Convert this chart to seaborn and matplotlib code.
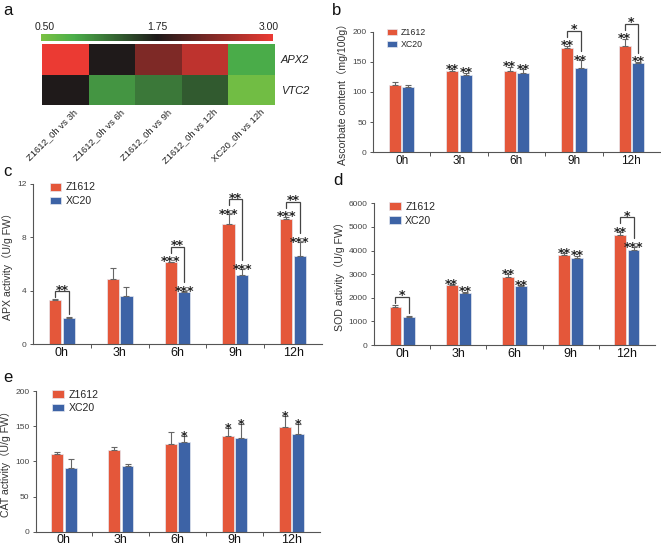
import numpy as np
import pandas as pd
import matplotlib
matplotlib.use("Agg")
import matplotlib.pyplot as plt
import seaborn as sns
from matplotlib.colors import LinearSegmentedColormap
from matplotlib.transforms import ScaledTranslation

# ---------------- data ----------------
times = ["0h", "3h", "6h", "9h", "12h"]
cultivars = ["Z1612", "XC20"]

heat_rows = ["APX2", "VTC2"]
heat_cols = ["Z1612_0h vs 3h", "Z1612_0h vs 6h", "Z1612_0h vs 9h",
             "Z1612_0h vs 12h", "XC20_0h vs 12h"]
apx2_fc = [3.00, 1.75, 2.33, 2.72, 0.87]
vtc2_fc = [1.75, 1.00, 1.18, 1.36, 0.57]
heat_ticks = [0.50, 1.75, 3.00]

# b: ascorbate content
asa_z = [111.5, 134, 135, 173.5, 176.5]
asa_z_err = [5, 3.5, 7, 3.5, 12]
asa_x = [108.5, 127.5, 131.5, 139.5, 147.5]
asa_x_err = [3, 4.5, 6, 13, 2.5]
asa_sig_z = ["", "**", "**", "**", "**"]
asa_sig_x = ["", "**", "**", "**", "**"]
asa_cmp = ["", "", "", "*", "*"]

# c: APX activity
apx_z = [3.32, 4.90, 6.13, 8.97, 9.37]
apx_z_err = [0.07, 0.80, 0.05, 0.76, 0.18]
apx_x = [2.00, 3.63, 3.93, 5.20, 6.60]
apx_x_err = [0.04, 0.66, 0.04, 0.42, 1.03]
apx_sig_z = ["", "", "***", "***", "***"]
apx_sig_x = ["", "", "***", "***", "***"]
apx_cmp = ["**", "", "**", "**", "**"]

# d: SOD activity
sod_z = [1630, 2530, 2870, 3790, 4660]
sod_z_err = [65, 40, 135, 95, 110]
sod_x = [1190, 2190, 2500, 3690, 4030]
sod_x_err = [40, 60, 40, 85, 110]
sod_sig_z = ["", "**", "**", "**", "**"]
sod_sig_x = ["", "**", "**", "**", "***"]
sod_cmp = ["*", "", "", "", "*"]

# e: CAT activity
cat_z = [110.5, 115.5, 124.5, 135.5, 149.5]
cat_z_err = [3.5, 5.5, 17, 11.5, 14.5]
cat_x = [91, 93, 127, 133.5, 139]
cat_x_err = [12, 3, 8.5, 19, 13.5]
cat_sig_z = ["", "", "", "*", "*"]
cat_sig_x = ["", "", "*", "*", "*"]
cat_cmp = ["", "", "", "", ""]

# ---------------- style ----------------
sns.set_style("ticks")
plt.rcParams["font.family"] = ["Liberation Sans", "Noto Sans CJK SC", "DejaVu Sans"]
palette = {"Z1612": "#E4573A", "XC20": "#3D63A6"}
W, H = 661, 548
fig = plt.figure(figsize=(W / 100, H / 100), dpi=100)


def rect(left, top, right, bottom):
    return [left / W, 1 - bottom / H, (right - left) / W, (bottom - top) / H]


def up(ax, y, px):
    d = ax.transData.transform((0, y))
    return ax.transData.inverted().transform((d[0], d[1] + px))[1]


# ---------------- panel a: heatmap ----------------
ax_a = fig.add_axes(rect(42, 44, 275, 105))
cax = fig.add_axes(rect(41, 34, 273, 41))
cmap = LinearSegmentedColormap.from_list(
    "gkr", [(0.0, "#7AC143"), (0.14, "#4BAE4A"), (0.5, "#1E1A1A"), (1.0, "#EB3A33")])
heat = pd.DataFrame([apx2_fc, vtc2_fc], index=heat_rows, columns=heat_cols)
sns.heatmap(heat, ax=ax_a, cmap=cmap, vmin=heat_ticks[0], vmax=heat_ticks[-1],
            cbar_ax=cax, cbar_kws={"orientation": "horizontal", "ticks": heat_ticks})
cax.xaxis.set_ticks_position("top")
cax.set_xticklabels([f"{t:.2f}" for t in heat_ticks], fontsize=7.5, color="#222")
cax.tick_params(length=0, pad=1.5)
for sp in cax.spines.values():
    sp.set_visible(False)
cb = ax_a.collections[0].colorbar
if cb is not None:
    cb.outline.set_visible(False)
labs = cax.get_xticklabels()
for lab, dx in zip(labs, [0.035, 0.0, -0.04]):
    lab.set_transform(lab.get_transform() + ScaledTranslation(dx, 0, fig.dpi_scale_trans))
ax_a.yaxis.tick_right()
ax_a.set_yticklabels(heat_rows, rotation=0, fontsize=8, style="italic", color="#222")
ax_a.tick_params(axis="y", length=0, pad=4)
ax_a.tick_params(axis="x", length=0, pad=1)
ax_a.set_xticklabels(heat_cols, rotation=45, ha="right", rotation_mode="anchor",
                     fontsize=6.8, color="#222")
for lab in ax_a.get_xticklabels():
    lab.set_transform(lab.get_transform() + ScaledTranslation(0.08, -0.01, fig.dpi_scale_trans))
ax_a.set_xlabel("")
ax_a.set_ylabel("")


# ---------------- bar panels ----------------
def bar_panel(ax, z, ze, x, xe, ymax, yticks, ylabel, sig_z, sig_x, cmp,
              leg_fs, leg_anchor, tick_fs=9):
    df = pd.DataFrame({"time": times * 2,
                       "cultivar": [cultivars[0]] * 5 + [cultivars[1]] * 5,
                       "value": list(z) + list(x)})
    sns.barplot(data=df, x="time", y="value", hue="cultivar", order=times,
                hue_order=cultivars, palette=palette, width=0.47, gap=0.11,
                errorbar=None, edgecolor="#e6e9f0", linewidth=0.5, ax=ax,
                saturation=1)
    ax.set_xlim(-0.5, 4.5)
    ax.set_ylim(0, ymax)
    ax.set_yticks(yticks)
    ax.set_yticklabels([str(t) for t in yticks], fontsize=6, color="#444")
    ax.tick_params(axis="y", length=2.5, width=0.7, color="#555", pad=2)
    ax.tick_params(axis="x", which="major", length=0, labelsize=tick_fs, pad=2)
    ax.set_xticks([0.5, 1.5, 2.5, 3.5], minor=True)
    ax.tick_params(axis="x", which="minor", length=3, width=0.7, color="#555")
    for lab in ax.get_xticklabels():
        lab.set_color("#111")
    ax.set_xlabel("")
    ax.set_ylabel(ylabel, fontsize=7.6, color="#333", labelpad=3)
    for s in ["top", "right"]:
        ax.spines[s].set_visible(False)
    for s in ["left", "bottom"]:
        ax.spines[s].set_color("#555")
        ax.spines[s].set_linewidth(0.8)

    handles, labels = ax.get_legend_handles_labels()
    ax.legend(handles, labels, loc="upper left", bbox_to_anchor=leg_anchor,
              frameon=False, fontsize=leg_fs, handlelength=1.1, handleheight=0.75,
              handletextpad=0.45, labelspacing=0.35, borderaxespad=0, borderpad=0)

    xs = []
    for cont in ax.containers:
        xs.append(sorted(p.get_x() + p.get_width() / 2 for p in cont.patches))
    xz, xx = np.array(xs[0]), np.array(xs[1])
    for xpos, vals, errs in [(xz, z, ze), (xx, x, xe)]:
        ax.errorbar(xpos, vals, yerr=[np.zeros(len(errs)), errs], fmt="none",
                    ecolor="#666", elinewidth=0.8, capsize=2, capthick=0.8)

    star_kw = dict(ha="center", va="baseline", fontsize=9.2, fontweight="bold",
                   color="#222", family=["DejaVu Sans"], annotation_clip=False)
    base = -2.6  # points: puts the asterisk just above the anchor
    for i in range(5):
        tz = z[i] + ze[i]
        tx = x[i] + xe[i]
        if sig_z[i]:
            ax.annotate(sig_z[i], (xz[i], tz), xytext=(0, base),
                        textcoords="offset points", **star_kw)
        if sig_x[i]:
            ax.annotate(sig_x[i], (xx[i], tx), xytext=(0, base),
                        textcoords="offset points", **star_kw)
        if cmp[i]:
            lb = up(ax, tz, 9 if sig_z[i] else 2)
            rb = up(ax, tx, 9 if sig_x[i] else 3)
            top = up(ax, max(lb, rb), 6)
            ax.plot([xz[i], xz[i], xx[i], xx[i]], [lb, top, top, rb],
                    color="#444", lw=0.9, clip_on=False, solid_joinstyle="miter")
            ax.annotate(cmp[i], ((xz[i] + xx[i]) / 2, top), xytext=(0, base + 0.8),
                        textcoords="offset points", **star_kw)


ax_b = fig.add_axes(rect(373, 31.7, 660, 152.3))
bar_panel(ax_b, asa_z, asa_z_err, asa_x, asa_x_err, 200, [0, 50, 100, 150, 200],
          "Ascorbate content（mg/100g）", asa_sig_z, asa_sig_x, asa_cmp,
          6.3, (0.05, 1.03), tick_fs=8.5)

ax_c = fig.add_axes(rect(33, 184, 322, 344.3))
bar_panel(ax_c, apx_z, apx_z_err, apx_x, apx_x_err, 12, [0, 4, 8, 12],
          "APX activity（U/g FW）", apx_sig_z, apx_sig_x, apx_cmp,
          7.6, (0.058, 1.01))

ax_d = fig.add_axes(rect(374, 203.3, 655, 345))
bar_panel(ax_d, sod_z, sod_z_err, sod_x, sod_x_err, 6000,
          [0, 1000, 2000, 3000, 4000, 5000, 6000],
          "SOD activity（U/g FW）", sod_sig_z, sod_sig_x, sod_cmp,
          7.6, (0.053, 1.01))

ax_e = fig.add_axes(rect(35.5, 391, 320, 531.7))
bar_panel(ax_e, cat_z, cat_z_err, cat_x, cat_x_err, 200, [0, 50, 100, 150, 200],
          "CAT activity（U/g FW）", cat_sig_z, cat_sig_x, cat_cmp,
          7.6, (0.058, 1.01))

# panel letters
for letter, px, py in [("a", 3, 15), ("b", 332, 15), ("c", 3, 176),
                       ("d", 333, 185), ("e", 3, 382)]:
    fig.text(px / W, 1 - py / H, letter, fontsize=12, va="baseline", ha="left",
             color="#111")

fig.savefig("out.png", dpi=100)
